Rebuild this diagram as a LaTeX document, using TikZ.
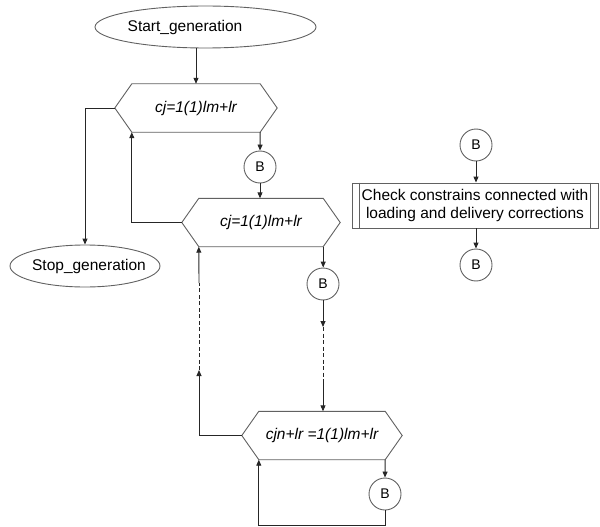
\documentclass[tikz,border=0pt]{standalone}
\usepackage{fontspec}
\setmainfont{Liberation Sans}
\usetikzlibrary{arrows.meta,shapes.geometric}

% hexagonal loop box drawn around a plain rectangle node
\newcommand\loophex[1]{%
  \coordinate (#1L) at ([xshift=-17pt]#1.west);
  \coordinate (#1R) at ([xshift=17pt]#1.east);
  \draw[shapeline] (#1.north west) -- (#1.north east) -- (#1R) -- (#1.south east)
    -- (#1.south west) -- (#1L) -- cycle;}

\begin{document}
\begin{tikzpicture}[x=1pt,y=-1pt,
  txt/.style={font=\fontsize{15.5}{18}\selectfont, inner sep=0pt},
  shapeline/.style={draw=black!62, line width=0.9pt},
  line/.style={draw=black!85, line width=0.9pt},
  arr/.style={line, -{Triangle[length=6pt,width=5pt]}},
  dashline/.style={line, dash pattern=on 4pt off 2.5pt},
  term/.style={ellipse, shapeline, inner sep=0pt},
  body/.style={rectangle, inner sep=0pt, minimum height=48pt,
    font=\fontsize{15.5}{18}\selectfont\itshape},
  conn/.style={circle, shapeline, inner sep=0pt, minimum size=32pt,
    font=\fontsize{14}{16}\selectfont},
  procbox/.style={rectangle, shapeline, inner sep=0pt, minimum width=246pt,
    minimum height=45pt, align=center, font=\fontsize{15.5}{18}\selectfont}]

\useasboundingbox (0,0) rectangle (600,527);

% terminals
\node[term, minimum width=221pt, minimum height=42pt] (start) at (205.5,27) {};
\node[txt] (startT) at (185,27) {Start\_generation};
\node[term, minimum width=150pt, minimum height=42pt] (stop) at (85,266) {};
\node[txt] (stopT) at (89,266) {Stop\_generation};

% loop headers
\node[body, minimum width=128pt] (hex1) at (196,108) {cj=1(1)lm+lr};
\loophex{hex1}
\node[body, minimum width=124pt] (hex2) at (261,222.5) {cj=1(1)lm+lr};
\loophex{hex2}
\node[body, minimum width=126pt] (hex3) at (322,435.5) {cjn+lr =1(1)lm+lr};
\loophex{hex3}

% connectors to the body block
\node[conn] (B1) at (260,167) {B};
\node[conn] (B2) at (323,284) {B};
\node[conn] (B3) at (385,494) {B};

% body block
\node[conn] (Btop) at (476,145) {B};
\node[procbox] (check) at (475,205.5)
  {Check constrains connected with\\loading and delivery corrections};
\draw[shapeline] ([xshift=8pt]check.north west) -- ([xshift=8pt]check.south west);
\draw[shapeline] ([xshift=-8pt]check.north east) -- ([xshift=-8pt]check.south east);
\node[conn] (Bbot) at (476,265) {B};

% flow
\draw[arr] (start.south -| hex1.north) -- (hex1.north);
\draw[arr] (hex1L) -| (stop.north);
\draw[arr] (hex1.south east) -- (B1.north);
\draw[arr] (B1.south) -- (B1.south |- hex2.north);
\draw[arr] (hex2L) -| (hex1.south west);
\draw[arr] (hex2.south east) -- (hex2.south east |- B2.north);

% elided levels between the second and the innermost loop
\coordinate (d1) at (323,327);
\coordinate (d2) at (323,380);
\draw[arr] (B2.south) -- (d1);
\draw[dashline] (d1) -- (d2);
\draw[arr] (d2) -- (d2 |- hex3.north);

\coordinate (u1) at (199,370);
\coordinate (u2) at (199,283);
\draw[arr] (hex3L) -| (u1);
\draw[dashline] (u1) -- (u2);
\draw[arr] (u2) -- (hex2.south west);

% innermost loop
\coordinate (lb) at (385,525);
\draw[arr] (hex3.south east) -- (B3.north);
\draw[arr] (B3.south) -- (lb) -| (hex3.south west);

% body block flow
\draw[arr] (Btop.south) -- (Btop.south |- check.north);
\draw[arr] (check.south -| Bbot.north) -- (Bbot.north);
\end{tikzpicture}
\end{document}
